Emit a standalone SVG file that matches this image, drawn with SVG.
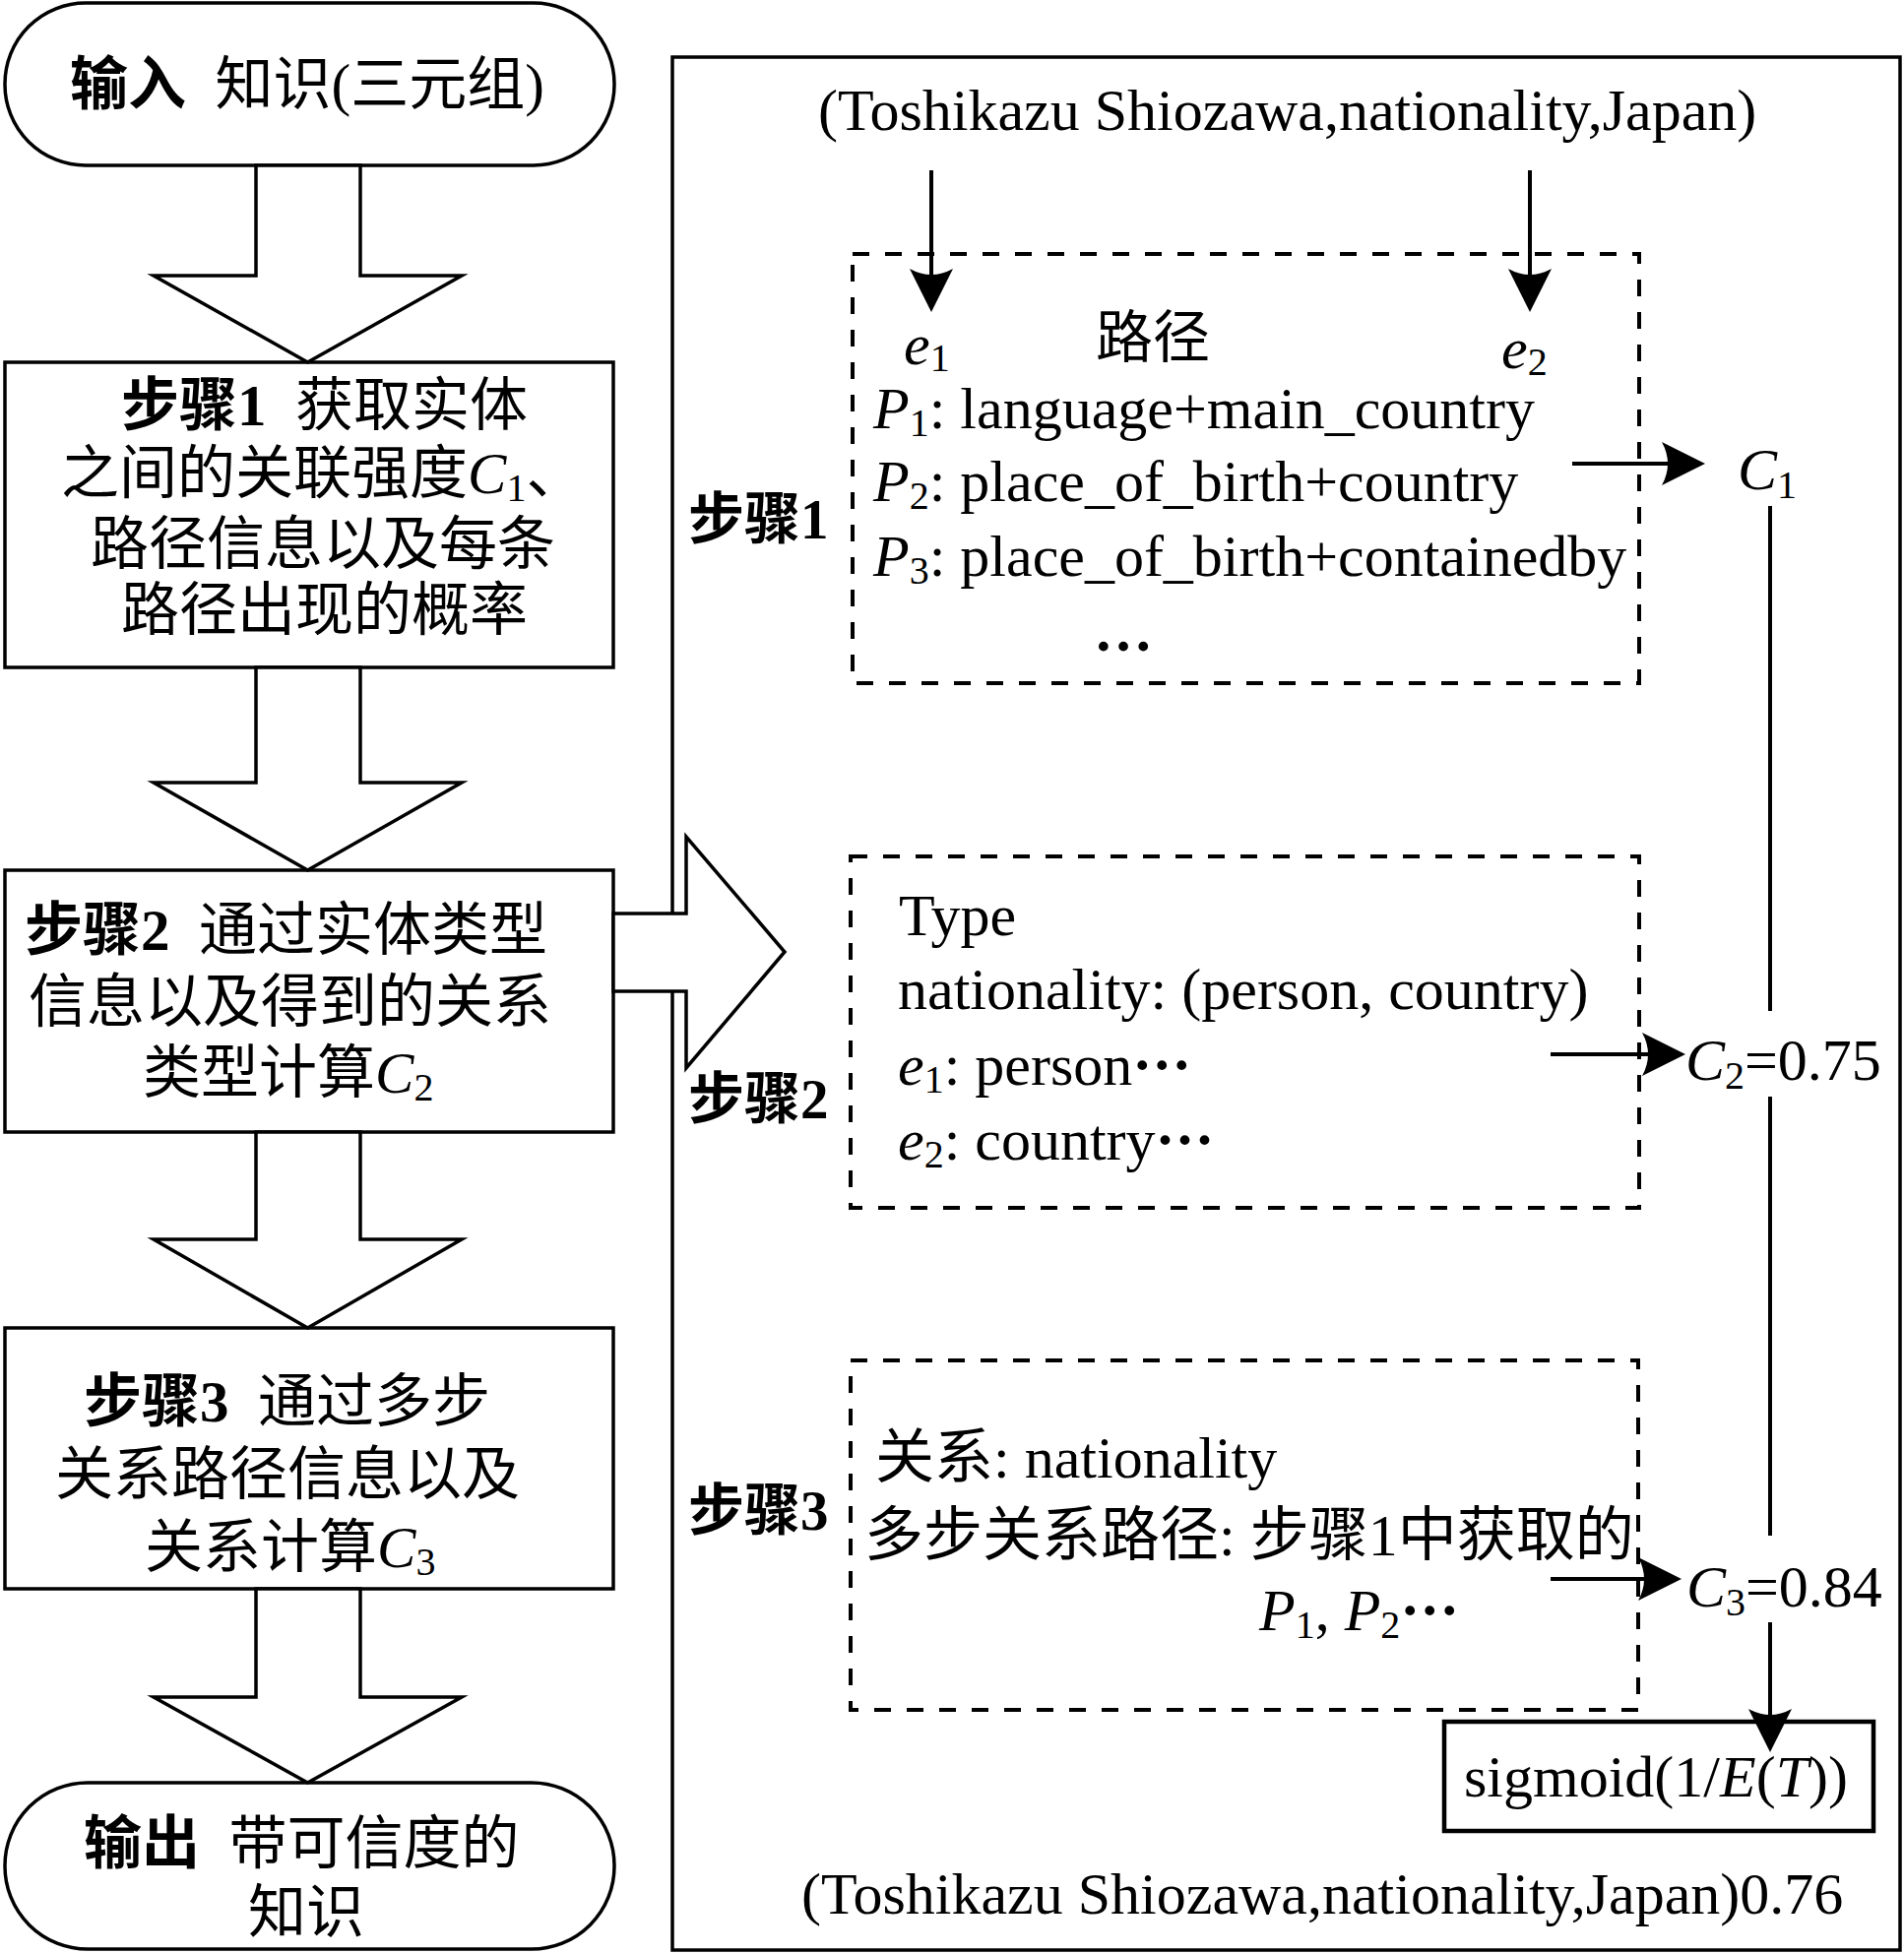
<svg xmlns="http://www.w3.org/2000/svg" width="1934" height="1985" viewBox="0 0 1934 1985">
<defs>
<style>
.box{fill:#fff;stroke:#000;stroke-width:3.5}
.dash{fill:none;stroke:#000;stroke-width:4;stroke-dasharray:17 16}
.blk{fill:#fff;stroke:#000;stroke-width:3.5;stroke-linejoin:miter}
.ln{fill:none;stroke:#000;stroke-width:4}
.t{font-family:"Liberation Serif","Times New Roman","Noto Sans CJK SC",serif;font-size:60px;fill:#000}
.cn{font-family:"Liberation Serif","Times New Roman","Noto Sans CJK SC",serif;font-size:59px;fill:#000}
.b{font-weight:bold}
.i{font-style:italic}
.s{font-size:40px;font-style:normal}
</style>
<marker id="ah" viewBox="0 0 44 44" refX="6" refY="22" markerWidth="44" markerHeight="44" markerUnits="userSpaceOnUse" orient="auto"><path d="M0,0 Q12,22 0,44 L44,22 Z" fill="#000"/></marker>
</defs>
<rect x="0" y="0" width="1934" height="1985" fill="#fff"/>

<g id="panel">
<rect class="box" x="683" y="58" width="1247" height="1923" fill="none"/>
</g>

<g id="n-input">
<rect class="box" x="5" y="3" width="619" height="165" rx="82"/>
<text class="cn" x="71" y="106" xml:space="preserve"><tspan class="b">输入</tspan>  知识(三元组)</text>
</g>

<g id="n-step1">
<rect class="box" x="5" y="368" width="618" height="310"/>
<text class="cn" x="123" y="432" xml:space="preserve"><tspan class="b">步骤1</tspan>  获取实体</text>
<text class="cn" x="62" y="501">之间的关联强度<tspan class="i">C</tspan><tspan class="s" dy="8">1</tspan><tspan dy="-8">、</tspan></text>
<text class="cn" x="92" y="573">路径信息以及每条</text>
<text class="cn" x="123" y="640">路径出现的概率</text>
</g>

<g id="n-step2">
<rect class="box" x="5" y="884" width="618" height="266"/>
<text class="cn" x="25" y="965" xml:space="preserve"><tspan class="b">步骤2</tspan>  通过实体类型</text>
<text class="cn" x="29" y="1038">信息以及得到的关系</text>
<text class="cn" x="145" y="1110">类型计算<tspan class="i">C</tspan><tspan class="s" dy="8">2</tspan></text>
</g>

<g id="n-step3">
<rect class="box" x="5" y="1349" width="618" height="265"/>
<text class="cn" x="85" y="1444" xml:space="preserve"><tspan class="b">步骤3</tspan>  通过多步</text>
<text class="cn" x="56" y="1518">关系路径信息以及</text>
<text class="cn" x="147" y="1592">关系计算<tspan class="i">C</tspan><tspan class="s" dy="8">3</tspan></text>
</g>

<g id="n-output">
<rect class="box" x="5" y="1811" width="619" height="169" rx="84"/>
<text class="cn" x="85" y="1893" xml:space="preserve"><tspan class="b">输出</tspan>  带可信度的</text>
<text class="cn" x="252" y="1963">知识</text>
</g>

<g id="sigmoid">
<rect class="box" x="1467" y="1749" width="436" height="111" style="stroke-width:4.5;fill:none"/>
<text class="t" x="1487" y="1825">sigmoid(1/<tspan class="i">E</tspan>(<tspan class="i">T</tspan>))</text>
</g>

<g id="connectors">
<polygon class="blk" points="260,168 366,168 366,280 469,280 312.5,368 156,280 260,280"/>
<polygon class="blk" points="260,678 366,678 366,795 469,795 312.5,884 156,795 260,795"/>
<polygon class="blk" points="260,1150 366,1150 366,1259 469,1259 312.5,1349 156,1259 260,1259"/>
<polygon class="blk" points="260,1614 366,1614 366,1724 469,1724 312.5,1811 156,1724 260,1724"/>
<polygon class="blk" points="623,928 697,928 697,850 797,967 697,1085 697,1007 623,1007"/>
<line class="ln" x1="946" y1="173" x2="946" y2="279" marker-end="url(#ah)"/>
<line class="ln" x1="1554" y1="173" x2="1554" y2="279" marker-end="url(#ah)"/>
<line class="ln" x1="1597" y1="471" x2="1694" y2="471" marker-end="url(#ah)"/>
<line class="ln" x1="1575" y1="1071" x2="1674" y2="1071" marker-end="url(#ah)"/>
<line class="ln" x1="1575" y1="1604" x2="1670" y2="1604" marker-end="url(#ah)"/>
<line class="ln" x1="1798" y1="514" x2="1798" y2="1027"/>
<line class="ln" x1="1798" y1="1114" x2="1798" y2="1560"/>
<line class="ln" x1="1798" y1="1648" x2="1798" y2="1742" marker-end="url(#ah)"/>
</g>

<g id="tuple-top">
<text class="t" x="831" y="132">(Toshikazu Shiozawa,nationality,Japan)</text>
</g>

<g id="path-box">
<rect class="dash" x="866" y="258" width="799" height="436"/>
<text class="t i" x="918" y="370">e<tspan class="s" dy="7">1</tspan></text>
<text class="cn" x="1113" y="363" style="font-size:58px">路径</text>
<text class="t i" x="1525" y="374">e<tspan class="s" dy="7">2</tspan></text>
<text class="t" x="887" y="435"><tspan class="i">P</tspan><tspan class="s" dy="8">1</tspan><tspan dy="-8">: language+main_country</tspan></text>
<text class="t" x="887" y="509"><tspan class="i">P</tspan><tspan class="s" dy="8">2</tspan><tspan dy="-8">: place_of_birth+country</tspan></text>
<text class="t" x="887" y="585"><tspan class="i">P</tspan><tspan class="s" dy="8">3</tspan><tspan dy="-8">: place_of_birth+containedby</tspan></text>
<text class="t b" x="1111" y="661">…</text>
</g>

<g id="type-box">
<rect class="dash" x="864" y="870" width="801" height="357"/>
<text class="t" x="913" y="950">Type</text>
<text class="t" x="912" y="1025">nationality: (person, country)</text>
<text class="t" x="912" y="1102"><tspan class="i">e</tspan><tspan class="s" dy="8">1</tspan><tspan dy="-8">: person<tspan class="b">···</tspan></tspan></text>
<text class="t" x="912" y="1178"><tspan class="i">e</tspan><tspan class="s" dy="8">2</tspan><tspan dy="-8">: country<tspan class="b">···</tspan></tspan></text>
</g>

<g id="rel-box">
<rect class="dash" x="864" y="1382" width="800" height="355"/>
<text class="t" x="889" y="1501">关系: nationality</text>
<text class="t" x="878" y="1580">多步关系路径: 步骤1中获取的</text>
<text class="t" x="1279" y="1656"><tspan class="i">P</tspan><tspan class="s" dy="8">1</tspan><tspan dy="-8">, </tspan><tspan class="i">P</tspan><tspan class="s" dy="8">2</tspan><tspan dy="-8" class="b">···</tspan></text>
</g>

<g id="labels">
<text class="cn b" x="699" y="547" style="font-size:57px">步骤1</text>
<text class="cn b" x="699" y="1136" style="font-size:57px">步骤2</text>
<text class="cn b" x="699" y="1554" style="font-size:57px">步骤3</text>
</g>

<g id="c1"><text class="t" x="1765" y="497"><tspan class="i">C</tspan><tspan class="s" dy="9">1</tspan></text></g>
<g id="c2"><text class="t" x="1712" y="1097"><tspan class="i">C</tspan><tspan class="s" dy="9">2</tspan><tspan dy="-9">=0.75</tspan></text></g>
<g id="c3"><text class="t" x="1713" y="1632"><tspan class="i">C</tspan><tspan class="s" dy="9">3</tspan><tspan dy="-9">=0.84</tspan></text></g>

<g id="tuple-bottom">
<text class="t" x="814" y="1944">(Toshikazu Shiozawa,nationality,Japan)0.76</text>
</g>
</svg>
